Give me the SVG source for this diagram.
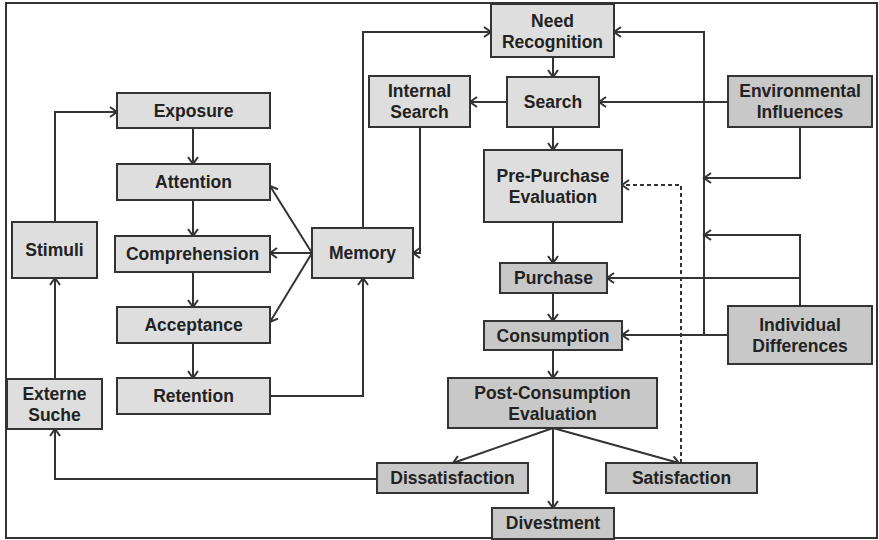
<svg xmlns="http://www.w3.org/2000/svg" width="879" height="540" viewBox="0 0 879 540">
  <style>
    .box { stroke: #333; stroke-width: 2; }
    .light { fill: #dedede; }
    .dark { fill: #c8c8c8; }
    text { font-family: "Liberation Sans", Arial, sans-serif; font-weight: bold; font-size: 17.5px; fill: #222; text-anchor: middle; }
    .conn path { fill: none; stroke: #333; stroke-width: 2; marker-end: url(#arrow); }
    .conn path.dash { stroke-dasharray: 4 3; }
  </style>
  <defs>
    <marker id="arrow" markerUnits="userSpaceOnUse" markerWidth="12" markerHeight="12" refX="9" refY="6" orient="auto">
      <path d="M2,1 L9,6 L2,11" fill="none" stroke="#333" stroke-width="2"/>
    </marker>
  </defs>
  <rect x="0" y="0" width="879" height="540" fill="#fff"/>
  <rect x="6" y="3" width="871" height="535" fill="none" stroke="#333" stroke-width="2"/>

  <g class="conn">
    <path d="M55,222 V112 H117"/>
    <path d="M55,379 V278"/>
    <path d="M377,479 H55 V429"/>
    <path d="M193,128 V164"/>
    <path d="M193,200 V236"/>
    <path d="M193,271 V307"/>
    <path d="M193,343 V378"/>
    <path d="M312,253 L270,186"/>
    <path d="M312,253 H270"/>
    <path d="M312,253 L270,322"/>
    <path d="M270,396 H363 V278"/>
    <path d="M363,228 V32 H491"/>
    <path d="M420,127 V253 H413"/>
    <path d="M507,102 H470"/>
    <path d="M553,57 V77"/>
    <path d="M553,127 V150"/>
    <path d="M553,222 V263"/>
    <path d="M553,293 V321"/>
    <path d="M553,350 V378"/>
    <path d="M553,428 L453,463"/>
    <path d="M553,428 L679,463"/>
    <path d="M553,428 V508"/>
    <path d="M728,102 H599"/>
    <path d="M800,127 V178 H704"/>
    <path d="M800,306 V235 H704"/>
    <path d="M800,278 H607"/>
    <path d="M728,335 H622"/>
    <path d="M704,335 V32 H614"/>
    <path class="dash" d="M681,463 V185 H622"/>
  </g>

  <g id="exposure"><rect class="box light" x="117" y="93" width="153" height="35"/><text x="193.5" y="117">Exposure</text></g>
  <g id="attention"><rect class="box light" x="117" y="164" width="153" height="36"/><text x="193.5" y="188">Attention</text></g>
  <g id="comprehension"><rect class="box light" x="115" y="236" width="155" height="36"/><text x="192.5" y="260">Comprehension</text></g>
  <g id="acceptance"><rect class="box light" x="117" y="307" width="153" height="36"/><text x="193.5" y="331">Acceptance</text></g>
  <g id="retention"><rect class="box light" x="117" y="378" width="153" height="36"/><text x="193.5" y="402">Retention</text></g>
  <g id="stimuli"><rect class="box light" x="12" y="222" width="85" height="56"/><text x="54.5" y="256">Stimuli</text></g>
  <g id="externe-suche"><rect class="box light" x="7" y="379" width="95" height="50"/><text x="54.5" y="400">Externe</text><text x="54.5" y="421">Suche</text></g>
  <g id="memory"><rect class="box light" x="312" y="228" width="101" height="50"/><text x="362.5" y="259">Memory</text></g>
  <g id="internal-search"><rect class="box light" x="369" y="76" width="101" height="51"/><text x="419.5" y="97">Internal</text><text x="419.5" y="118">Search</text></g>
  <g id="need-recognition"><rect class="box light" x="491" y="4" width="123" height="53"/><text x="552.5" y="27">Need</text><text x="552.5" y="48">Recognition</text></g>
  <g id="search"><rect class="box light" x="507" y="77" width="92" height="50"/><text x="553" y="108">Search</text></g>
  <g id="pre-purchase"><rect class="box light" x="484" y="150" width="138" height="72"/><text x="553" y="182">Pre-Purchase</text><text x="553" y="203">Evaluation</text></g>
  <g id="purchase"><rect class="box dark" x="500" y="263" width="107" height="30"/><text x="553.5" y="284">Purchase</text></g>
  <g id="consumption"><rect class="box dark" x="484" y="321" width="138" height="29"/><text x="553" y="342">Consumption</text></g>
  <g id="post-consumption"><rect class="box dark" x="448" y="378" width="209" height="50"/><text x="552.5" y="399">Post-Consumption</text><text x="552.5" y="420">Evaluation</text></g>
  <g id="dissatisfaction"><rect class="box dark" x="377" y="463" width="151" height="30"/><text x="452.5" y="484">Dissatisfaction</text></g>
  <g id="satisfaction"><rect class="box dark" x="606" y="463" width="151" height="30"/><text x="681.5" y="484">Satisfaction</text></g>
  <g id="divestment"><rect class="box dark" x="492" y="508" width="122" height="31"/><text x="553" y="529">Divestment</text></g>
  <g id="environmental-influences"><rect class="box dark" x="728" y="76" width="144" height="51"/><text x="800" y="97">Environmental</text><text x="800" y="118">Influences</text></g>
  <g id="individual-differences"><rect class="box dark" x="728" y="306" width="144" height="58"/><text x="800" y="331">Individual</text><text x="800" y="352">Differences</text></g>
</svg>
